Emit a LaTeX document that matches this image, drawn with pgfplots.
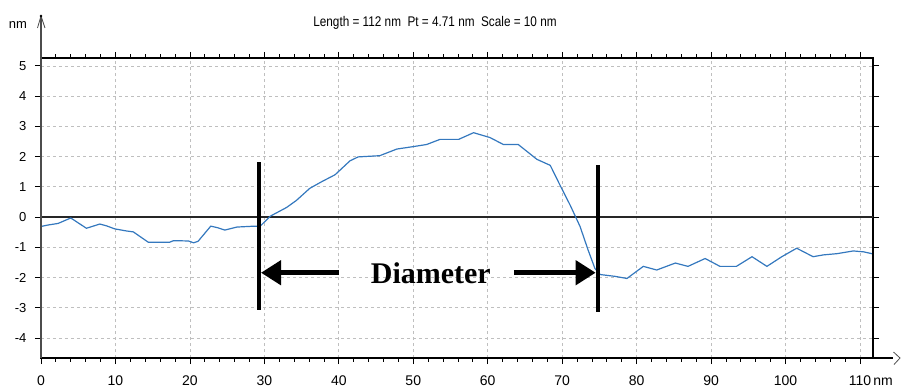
\documentclass[border=0pt]{standalone}
\usepackage{pgfplots}
\pgfplotsset{compat=1.18}
\usepackage{fontspec}
\setmainfont{Liberation Sans}
\newfontfamily\narrowfont{Liberation Sans}[FakeStretch=0.84]
\newfontfamily\timesfont{Liberation Serif}
\usetikzlibrary{arrows.meta}
\definecolor{curve}{RGB}{52,120,190}
\begin{document}
\begin{tikzpicture}
\begin{axis}[
  scale only axis, width=832pt, height=300pt,
  xmin=0, xmax=111.75, ymin=-4.66, ymax=5.26,
  axis line style={black, line width=1.2pt},
  tick align=outside,
  xtick={0,10,...,110},
  xticklabels={0,10,20,30,40,50,60,70,80,90,100,110\rlap{\,nm}},
  minor x tick num=4,
  ytick={-4,...,5},
  yticklabels={-4,-3,-2,-1,0,1,2,3,4,5},
  major tick length=6pt, minor tick length=3.5pt,
  every tick/.style={black, line width=0.8pt},
  grid=major,
  major grid style={gray!50, dash pattern=on 3pt off 3pt, line width=0.7pt},
  x tick label style={font=\fontsize{14}{14}\selectfont, yshift=-8pt},
  y tick label style={font=\fontsize{13}{13}\selectfont, xshift=-5pt},
  clip=false,
]
\coordinate (sw) at (rel axis cs:0,0);
\coordinate (ne) at (rel axis cs:1,1);
\draw[black!85, line width=1.5pt] (axis cs:0,0) -- (axis cs:111.75,0);
\addplot[curve, line width=1.2pt] coordinates {
(0.0,-0.31) (1.0,-0.26) (2.3,-0.21) (4.0,-0.03) (6.1,-0.37) (7.9,-0.23)
(8.8,-0.29) (9.9,-0.39) (11.5,-0.46) (12.4,-0.49) (14.4,-0.83) (17.3,-0.83)
(17.8,-0.78) (19.8,-0.79) (20.5,-0.85) (21.1,-0.80) (22.8,-0.30) (23.7,-0.35)
(24.7,-0.43) (26.3,-0.33) (28.7,-0.30) (29.4,-0.31) (30.8,0.03) (33.0,0.32)
(34.3,0.55) (36.1,0.95) (37.7,1.17) (39.5,1.40) (41.5,1.86) (42.6,1.99)
(45.5,2.03) (47.8,2.25) (50.0,2.33) (51.8,2.40) (53.6,2.57) (56.1,2.57)
(58.1,2.79) (60.3,2.63) (62.1,2.40) (64.1,2.40) (66.6,1.91) (68.4,1.71)
(69.7,1.06) (71.1,0.38) (72.4,-0.31) (73.5,-1.10) (74.4,-1.70) (75.1,-1.90)
(77.1,-1.96) (78.7,-2.03) (80.9,-1.63) (82.7,-1.75) (85.2,-1.52) (86.9,-1.63)
(89.2,-1.37) (91.2,-1.63) (93.4,-1.63) (95.5,-1.31) (97.5,-1.63) (99.5,-1.31)
(101.5,-1.03) (103.7,-1.31) (105.1,-1.25) (106.9,-1.21) (109.1,-1.12)
(110.5,-1.15) (111.6,-1.21)
};
\draw[line width=4pt] (axis cs:29.24,1.82) -- (axis cs:29.24,-3.06);
\draw[line width=4pt] (axis cs:74.78,1.72) -- (axis cs:74.78,-3.15);
\draw[line width=4.5pt, -{Triangle[length=20pt, width=24pt]}] (axis cs:40,-1.84) -- (axis cs:29.55,-1.84);
\draw[line width=4.5pt, -{Triangle[length=20pt, width=24pt]}] (axis cs:63.5,-1.84) -- (axis cs:74.5,-1.84);
\node[anchor=base, font=\timesfont\bfseries\fontsize{30}{30}\selectfont] at (axis cs:52.36,-2.21) {Diameter};
% left axis in gray with arrow on top
\draw[gray!60!black, line width=1.4pt] (rel axis cs:0,0) -- (rel axis cs:0,1) -- ++(0pt,42pt);
\draw[gray!60!black, line width=0.8pt] (rel axis cs:0,1) ++(-3.5pt,30pt) -- ++(3.5pt,12pt) -- ++(4pt,-12pt);
\fill[black] (rel axis cs:0,1) ++(0pt,42pt) circle (1.3pt);
% x axis extension with arrow
\draw[black, line width=1.2pt] (rel axis cs:1,0) -- ++(20pt,0pt);
\draw[gray!60!black, line width=0.8pt] (rel axis cs:1,0) ++(20.5pt,6pt) -- ++(6.5pt,-6pt) -- ++(-6pt,-6.5pt);
\path (rel axis cs:0,1) ++(-23pt,33pt) node[font=\fontsize{13}{13}\selectfont] {nm};
\path (rel axis cs:0,1) ++(394pt,35pt) node[font=\narrowfont\fontsize{14}{14}\selectfont] {Length = 112 nm\ \ Pt = 4.71 nm\ \ Scale = 10 nm};
\end{axis}
\pgfresetboundingbox
\path ([shift={(-41pt,-33pt)}]sw) rectangle ([shift={(28pt,58pt)}]ne);
\end{tikzpicture}
\end{document}
